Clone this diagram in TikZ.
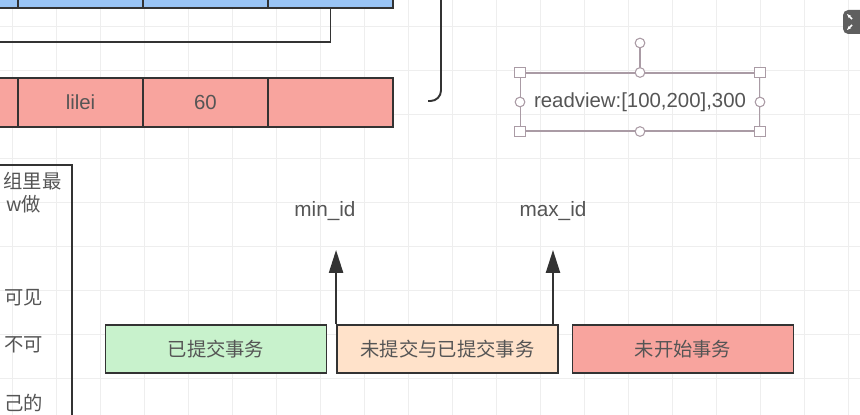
\documentclass[tikz,border=0pt]{standalone}
\usepackage{fontspec}
\setmainfont{Liberation Sans}
\newfontfamily\cjk{Noto Sans CJK SC}
\usetikzlibrary{arrows.meta, positioning, calc}

\definecolor{rowblue}{RGB}{153,196,245}
\definecolor{rowred}{RGB}{248,164,158}
\definecolor{boxgreen}{RGB}{200,242,204}
\definecolor{boxpeach}{RGB}{255,226,202}
\definecolor{linegray}{RGB}{51,51,51}
\definecolor{textgray}{RGB}{85,85,85}
\definecolor{selgray}{RGB}{170,155,165}
\definecolor{gridgray}{RGB}{238,238,238}
\definecolor{icongray}{RGB}{95,95,95}

\begin{document}
\begin{tikzpicture}[x=0.02cm, y=-0.02cm]

\tikzset{
  cell/.style={rectangle, draw=linegray, line width=1.1pt, inner sep=0pt,
    minimum width=2.5cm, minimum height=0.98cm,
    font=\fontsize{11.6}{13}\selectfont, text=textgray},
  bluecell/.style={cell, fill=rowblue},
  redcell/.style={cell, fill=rowred},
  txnbox/.style={rectangle, draw=linegray, line width=1.1pt, inner sep=0pt,
    minimum width=4.42cm, minimum height=0.96cm,
    font=\cjk\fontsize{11}{13}\selectfont, text=textgray},
  idlabel/.style={font=\fontsize{11.8}{13}\selectfont, text=textgray},
  sidetext/.style={font=\cjk\fontsize{11}{13}\selectfont, text=textgray,
    anchor=west, inner sep=0pt},
  frameline/.style={line width=1.1pt, linegray},
  bracket/.style={line width=1.1pt, linegray, rounded corners=6pt},
  arrow/.style={-{Triangle[length=13pt,width=8pt]}, line width=1.1pt, linegray},
  selbox/.style={rectangle, draw=selgray, line width=0.6pt, inner sep=0pt,
    minimum width=4.78cm, minimum height=1.16cm,
    font=\fontsize{11.6}{13}\selectfont, text=textgray},
  handle/.style={rectangle, draw=selgray, fill=white, line width=0.6pt,
    minimum size=6pt, inner sep=0pt},
  knob/.style={circle, draw=selgray, fill=white, line width=0.6pt,
    minimum size=5.5pt, inner sep=0pt},
  iconbox/.style={rectangle, fill=icongray, rounded corners=3pt,
    minimum width=0.48cm, minimum height=0.48cm}
}

\useasboundingbox (0,0) rectangle (860,415);
\fill[white] (0,0) rectangle (860,415);
\clip (0,0) rectangle (860,415);

% faint canvas grid
\foreach \gx in {0,44,...,880} {\draw[gridgray, line width=0.5pt] (\gx+12,0) -- (\gx+12,415);}
\foreach \gy in {0,44,...,440} {\draw[gridgray, line width=0.5pt] (0,\gy+26) -- (860,\gy+26);}

% table rows (cut by the frame)
\node[bluecell] (blueZ) at (-44.5,-16.5) {};
\node[bluecell] (blueA) at (80.5,-16.5) {};
\node[bluecell] (blueB) at (205.5,-16.5) {};
\node[bluecell] (blueC) at (330.5,-16.5) {};

\node[redcell] (redZ) at (-44.5,102.5) {};
\node[redcell] (redA) at (80.5,102.5) {lilei};
\node[redcell] (redB) at (205.5,102.5) {60};
\node[redcell] (redC) at (330.5,102.5) {};

\coordinate (lineleft) at (-10,42);
\draw[frameline] (lineleft) -| (blueC.south);

\coordinate (brtop) at (441,-10);
\coordinate (brend) at (428,101);
\draw[bracket] (brtop) |- (brend);

% selected read view text
\node[selbox] (rv) at (640,102) {readview:[100,200],300};
\node[knob] (rot) at (640,43) {};
\draw[selgray, line width=0.8pt] (rot) -- (rv.north);
\node[handle] at (rv.north west) {};
\node[handle] at (rv.north east) {};
\node[handle] at (rv.south west) {};
\node[handle] at (rv.south east) {};
\node[knob] at (rv.north) {};
\node[knob] at (rv.south) {};
\node[knob] at (rv.west) {};
\node[knob] at (rv.east) {};

% left note box (cut by the frame)
\draw[frameline] (-10,165) rectangle (72,440);
\node[sidetext] (note1) at (3,181) {组里最};
\node[sidetext] (note2) at (6,204) {w做};
\node[sidetext] (note3) at (4,298) {可见};
\node[sidetext] (note4) at (4,345) {不可};
\node[sidetext] (note5) at (4,403) {己的};

% transaction ranges
\node[txnbox, fill=boxgreen] (done) at (216,349) {已提交事务};
\node[txnbox, fill=boxpeach] (pending) at (447.5,349) {未提交与已提交事务};
\node[txnbox, fill=rowred] (future) at (683,349) {未开始事务};

\node[idlabel] (minid) at (325,211) {min\_id};
\node[idlabel] (maxid) at (553,211) {max\_id};

\coordinate (mintip) at (337,250);
\coordinate (maxtip) at (553,250);
\draw[arrow] (pending.north west) -- (pending.north west |- mintip);
\draw[arrow] (maxtip |- pending.north) -- (maxtip);

% window button
\node[iconbox] (fsbtn) at (855,22) {};
\draw[white, line width=0.9pt, -{Stealth[length=2.5pt]}] (fsbtn.center) ++(-3,-3) -- ++(-5,-5);
\draw[white, line width=0.9pt, -{Stealth[length=2.5pt]}] (fsbtn.center) ++(-3,3) -- ++(-5,5);

\end{tikzpicture}
\end{document}
